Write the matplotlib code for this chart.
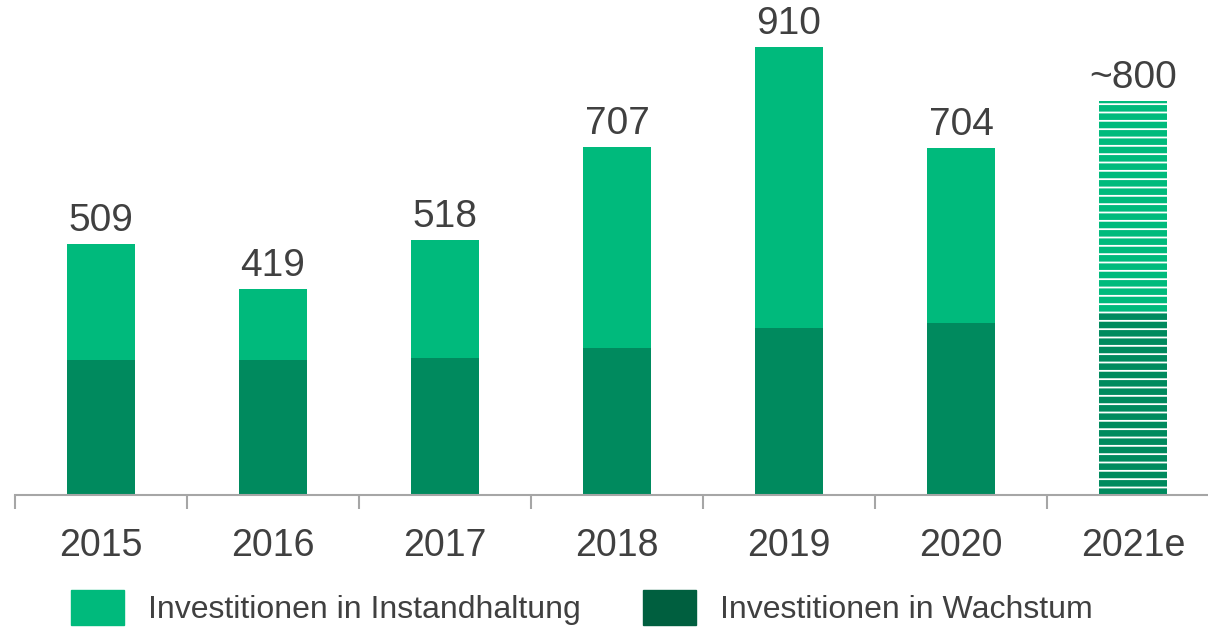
import numpy as np
import matplotlib.pyplot as plt
from matplotlib.patches import Patch

plt.rcParams['font.family'] = ['Liberation Sans', 'DejaVu Sans']
plt.rcParams['hatch.color'] = 'white'
plt.rcParams['hatch.linewidth'] = 1.3

years = ['2015', '2016', '2017', '2018', '2019', '2020', '2021e']
totals = [509, 419, 518, 707, 910, 704, 800]
total_labels = ['509', '419', '518', '707', '910', '704', '~800']
wachstum = [274, 274, 278, 299, 339, 349, 372]
instandhaltung = [t - w for t, w in zip(totals, wachstum)]

light = '#00BA7C'
dark = '#008A5E'
dark_legend = '#005F3F'
text_col = '#404040'
axis_col = '#A6A6A6'

fig = plt.figure(figsize=(12.08, 6.3), dpi=100)
ax = fig.add_axes([15/1208, 1-495/630, 1204/1208, 448/630])

x = np.arange(len(years))
w = 0.395
for i in range(len(years)):
    hatch = '--' if years[i].endswith('e') else None
    ax.bar(x[i], wachstum[i], w, color=dark, hatch=hatch, linewidth=0)
    ax.bar(x[i], instandhaltung[i], w, bottom=wachstum[i], color=light, hatch=hatch, linewidth=0)
    ax.text(x[i], totals[i] + 10, total_labels[i], ha='center', va='bottom',
            fontsize=28, color=text_col)

ax.set_xlim(-0.5, len(years) - 0.5)
ax.set_ylim(0, 910)
for s in ['top', 'right', 'left']:
    ax.spines[s].set_visible(False)
ax.spines['bottom'].set_color(axis_col)
ax.spines['bottom'].set_linewidth(1.5)
ax.set_yticks([])
ax.set_xticks(x)
ax.set_xticklabels(years, fontsize=27, color=text_col)
ax.tick_params(axis='x', which='major', length=0, pad=24)
ax.set_xticks(np.arange(-0.5, len(years)), minor=True)
ax.tick_params(axis='x', which='minor', length=10, width=1.5, color=axis_col)

handles = [Patch(color=light, label='Investitionen in Instandhaltung'),
           Patch(color=dark_legend, label='Investitionen in Wachstum')]
fig.legend(handles=handles, loc='lower left', bbox_to_anchor=(42/1208, -0.038),
           ncol=2, frameon=False, fontsize=23, labelcolor=text_col,
           handlelength=1.66, handleheight=1.3, handletextpad=0.75,
           columnspacing=1.95)

fig.savefig('out.png', dpi=100)
